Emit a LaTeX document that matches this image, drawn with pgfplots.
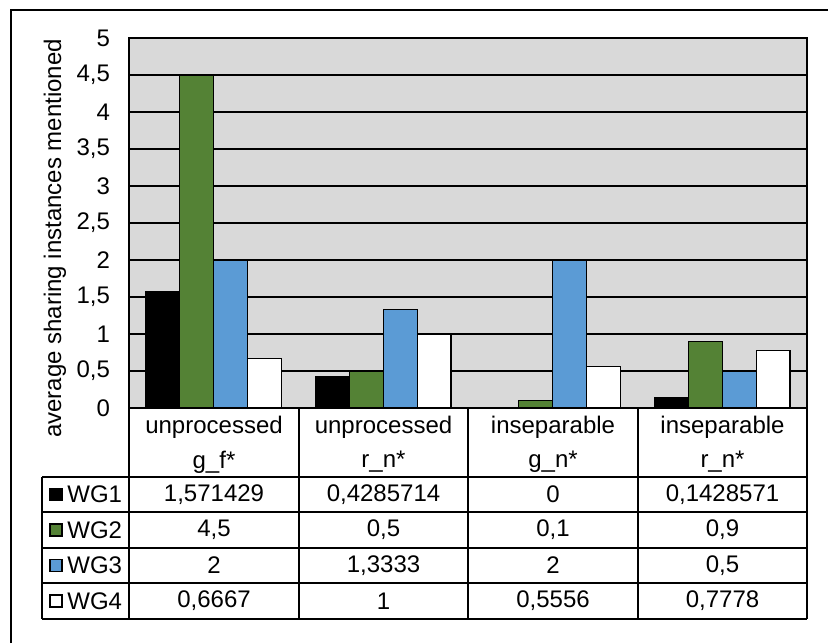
\documentclass[border=0pt]{standalone}
\usepackage{fontspec}
\setmainfont{Liberation Sans}
\usepackage{pgfplots}
\pgfplotsset{compat=1.18}
\definecolor{wgtwo}{HTML}{548235}
\definecolor{wgthree}{HTML}{5B9BD5}
\definecolor{plotbg}{HTML}{D9D9D9}

\begin{document}
\begin{tikzpicture}[font=\fontsize{12pt}{14pt}\selectfont]
% plot area: 339pt x 185pt, lower left corner at (64.5pt,117.5pt)
\begin{axis}[
  at={(64.5pt,117.5pt)}, anchor=south west,
  scale only axis, width=339pt, height=185pt,
  xmin=-0.5, xmax=3.5, ymin=0, ymax=5,
  xtick=\empty,
  minor xtick={0.5,1.5,2.5}, xminorgrids,
  ytick={0,0.5,1,1.5,2,2.5,3,3.5,4,4.5,5}, ymajorgrids,
  major tick length=0pt, minor tick length=0pt,
  grid style={black, line width=0.6pt},
  minor grid style={black, line width=0.6pt},
  axis line style={black, line width=0.8pt},
  axis background/.style={fill=plotbg},
  /pgf/number format/use comma,
  /pgf/number format/assume math mode=true,
  yticklabel style={font=\fontsize{12pt}{14pt}\selectfont, xshift=-6pt},
  ybar, bar width=0.2,
  every axis plot/.append style={draw=black, line width=0.6pt},
]
\addplot[fill=black,   bar shift=-0.3] coordinates {(0,1.571429) (1,0.4285714) (2,0) (3,0.1428571)};
\addplot[fill=wgtwo,   bar shift=-0.1] coordinates {(0,4.5) (1,0.5) (2,0.1) (3,0.9)};
\addplot[fill=wgthree, bar shift=0.1]  coordinates {(0,2) (1,1.3333) (2,2) (3,0.5)};
\addplot[fill=white,   bar shift=0.3]  coordinates {(0,0.6667) (1,1) (2,0.5556) (3,0.7778)};
\end{axis}

\begin{scope}[x=0.5pt,y=0.5pt]
\useasboundingbox (0,0) rectangle (828,643);
% outer chart frame
\draw[line width=0.7pt] (11,0) -- (11,633) -- (828,633);

% y axis title
\node[rotate=90] at (55,404.5) {average sharing instances mentioned};

% data table grid
\begin{scope}[line width=0.7pt]
\foreach \yy in {166,131,95,60,24} \draw (42,\yy) -- (807,\yy);
\draw (42,166) -- (42,24);
\foreach \xx in {129,299,468,638,807} \draw (\xx,235) -- (\xx,24);
\end{scope}

% category headers
\node at (214,216) {unprocessed};   \node at (214,181) {g\_f*};
\node at (383.5,216) {unprocessed}; \node at (383.5,181) {r\_n*};
\node at (553,216) {inseparable};   \node at (553,181) {g\_n*};
\node at (722.5,216) {inseparable}; \node at (722.5,181) {r\_n*};

% legend keys and series names
\draw[fill=black, line width=0.6pt]   (50,142.5) rectangle (62,154.5);
\draw[fill=wgtwo, line width=0.6pt]   (50,107) rectangle (62,119);
\draw[fill=wgthree, line width=0.6pt] (50,71.5) rectangle (62,83.5);
\draw[fill=white, line width=0.6pt]   (50,36) rectangle (62,48);
\node[anchor=west, inner sep=0pt] at (67,148.5) {WG1};
\node[anchor=west, inner sep=0pt] at (67,113) {WG2};
\node[anchor=west, inner sep=0pt] at (67,77.5) {WG3};
\node[anchor=west, inner sep=0pt] at (67,42) {WG4};

% table values
\node at (214,148.5) {1,571429}; \node at (383.5,148.5) {0,4285714}; \node at (553,148.5) {0}; \node at (722.5,148.5) {0,1428571};
\node at (214,113) {4,5};        \node at (383.5,113) {0,5};         \node at (553,113) {0,1}; \node at (722.5,113) {0,9};
\node at (214,77.5) {2};         \node at (383.5,77.5) {1,3333};     \node at (553,77.5) {2};  \node at (722.5,77.5) {0,5};
\node at (214,42) {0,6667};      \node at (383.5,42) {1};            \node at (553,42) {0,5556}; \node at (722.5,42) {0,7778};
\end{scope}
\end{tikzpicture}
\end{document}
